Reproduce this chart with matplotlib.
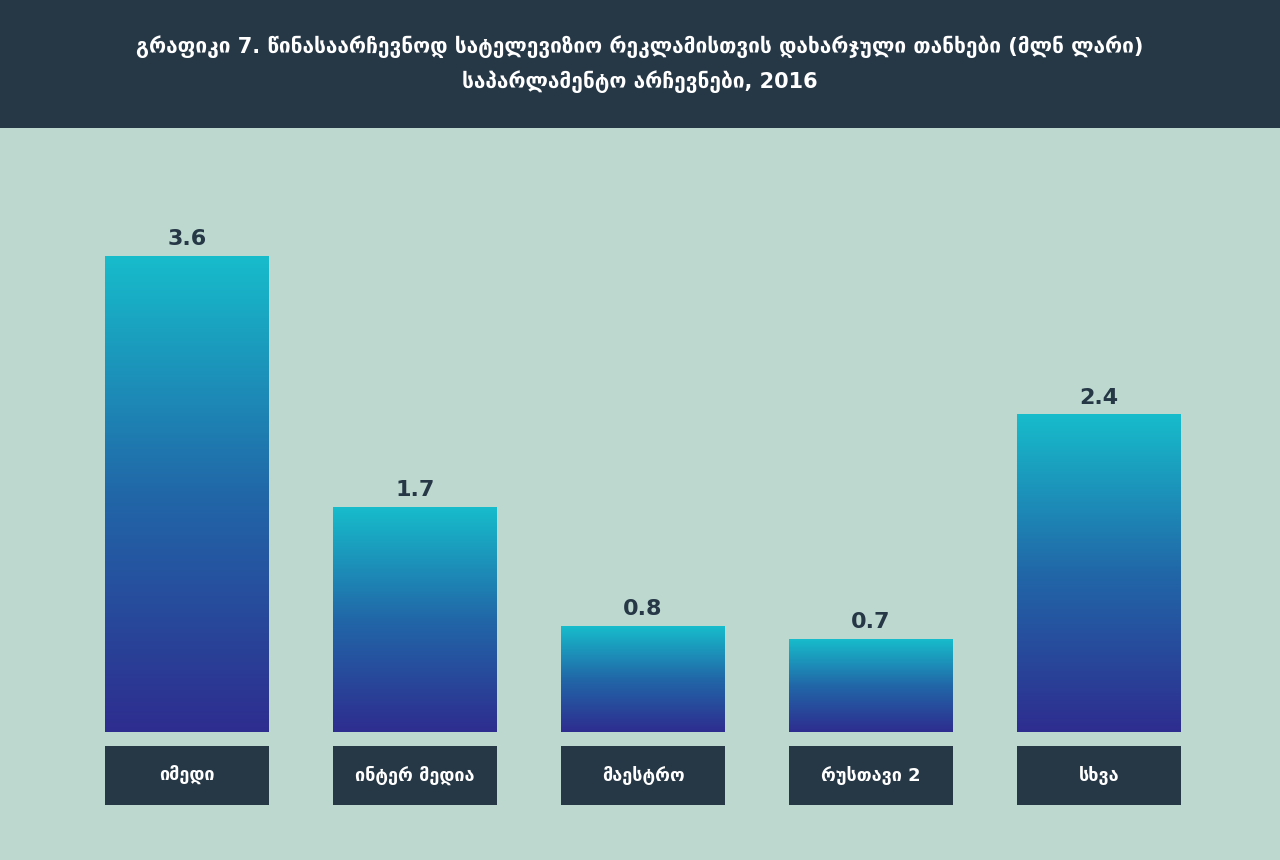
import numpy as np
import matplotlib.pyplot as plt
from matplotlib.colors import LinearSegmentedColormap
from matplotlib.patches import Rectangle

# data
channels = ["იმედი", "ინტერ მედია", "მაესტრო", "რუსთავი 2", "სხვა"]
spend = [3.6, 1.7, 0.8, 0.7, 2.4]
title_1 = "გრაფიკი 7. წინასაარჩევნოდ სატელევიზიო რეკლამისთვის დახარჯული თანხები (მლნ ლარი)"
title_2 = "საპარლამენტო არჩევნები, 2016"

bg = "#bcd8cf"
dark = "#263746"
grad = LinearSegmentedColormap.from_list("g", ["#2e2d8f", "#2167a8", "#17bccb"])

plt.rcParams['font.family'] = ['DejaVu Sans']

fig = plt.figure(figsize=(12.8, 8.6), dpi=100, facecolor=bg)

# header band
hdr = fig.add_axes([0, 1 - 128 / 860, 1, 128 / 860])
hdr.set_facecolor(dark)
hdr.set_xticks([])
hdr.set_yticks([])
for s in hdr.spines.values():
    s.set_visible(False)
hdr.text(0.5, 1 - 47 / 128, title_1, color="white", fontsize=15, fontweight="bold",
         ha="center", va="center", transform=hdr.transAxes)
hdr.text(0.5, 1 - 82 / 128, title_2, color="white", fontsize=15, fontweight="bold",
         ha="center", va="center", transform=hdr.transAxes)

# chart area
ax = fig.add_axes([0, 0, 1, 732 / 860])
ax.set_facecolor(bg)
ax.axis("off")

w = 164 / 228
g = np.linspace(0, 1, 256).reshape(-1, 1)
for i, (name, v) in enumerate(zip(channels, spend)):
    ax.imshow(g, cmap=grad, origin="lower", aspect="auto",
              extent=(i - w / 2, i + w / 2, 0, v), zorder=2)
    ax.text(i, v + 0.13, f"{v:.1f}", ha="center", va="center",
            fontsize=16, fontweight="bold", color=dark)
    ax.add_patch(Rectangle((i - w / 2, -73 / 132.2), w, 59 / 132.2,
                           facecolor=dark, edgecolor="none", zorder=2))
    ax.text(i, -43.5 / 132.2, name, ha="center", va="center",
            fontsize=13, fontweight="bold", color="white", zorder=3)

ax.set_xlim(-187 / 228, (1280 - 187) / 228)
ax.set_ylim(-128 / 132.2, (732 - 128) / 132.2)

fig.savefig("out.png", dpi=100, facecolor=bg)
